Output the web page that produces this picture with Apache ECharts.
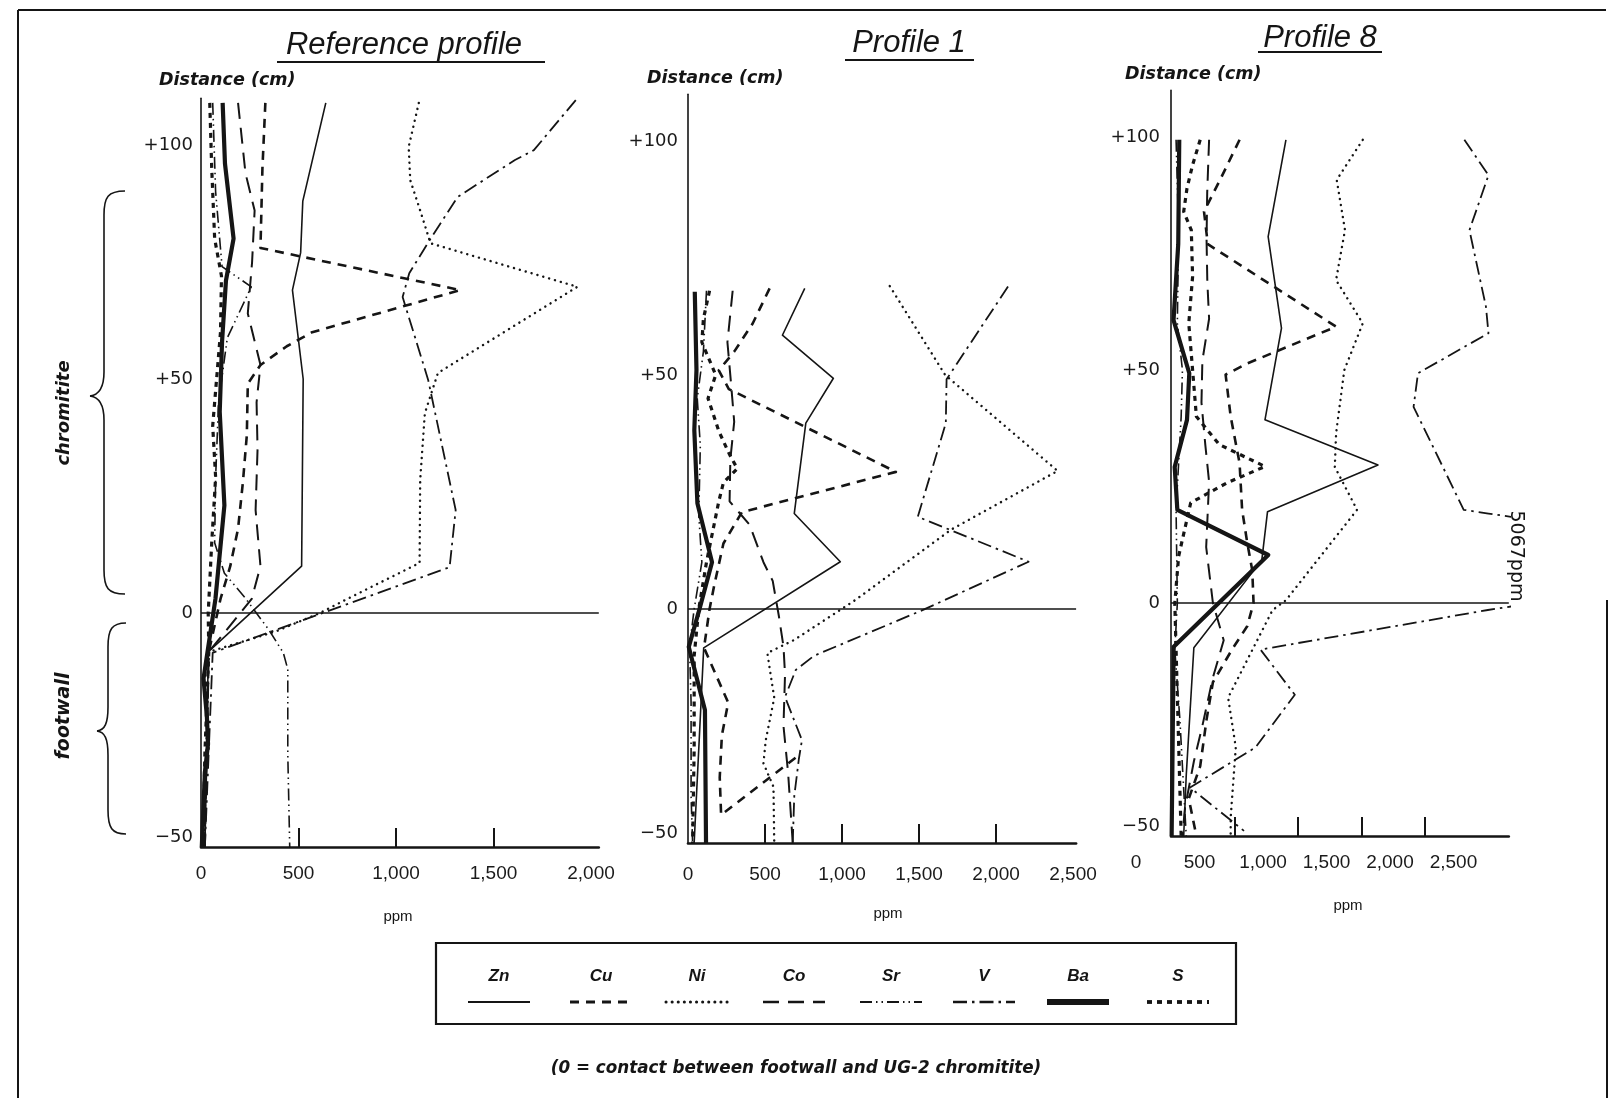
<!DOCTYPE html>
<html>
<head>
<meta charset="utf-8">
<script src="https://cdn.jsdelivr.net/npm/echarts@6/dist/echarts.min.js"></script>
<style>
html,body{margin:0;padding:0;background:#fff;}
#chart{width:1611px;height:1098px;}
</style>
</head>
<body>
<div id="chart"></div>
<script>
// ---------- DATA: [distance (cm), concentration (ppm)] ----------
const ELEMENTS = ['Zn','Cu','Ni','Co','Sr','V','Ba','S'];
const PANEL_TITLES = ['Reference profile','Profile 1','Profile 8'];
const Y_TICKS = [-50, 0, 50, 100];
const X_LABELS_REF = [0, 500, 1000, 1500, 2000];
const X_LABELS_P1 = [0, 500, 1000, 1500, 2000, 2500];
const X_LABELS_P8 = [0, 500, 1000, 1500, 2000, 2500];

// Reference profile
const refZn = [[109,640],[88,522],[77,511],[69,469],[50,524],[10,516],[-8.3,37],[-30,30],[-50,20]];
const refCu = [[109,330],[95,315],[78,305],[69,1330],[60,570],[57,440],[53,305],[49,240],[38,235],[28,215],[18,190],[10,150],[3,100],[-8.3,40]];
const refNi = [[109,1117],[99.6,1065],[92.5,1073],[85.5,1128],[79,1177],[69.7,1930],[51.3,1215],[42.7,1148],[28.4,1124],[10.7,1121],[2.8,740],[0,610],[-4,380],[-8.3,40],[-50,15]];
const refCo = [[109,190],[94,228],[86,275],[75,262],[64,240],[53,305],[45,285],[35,290],[22,280],[10,305],[3,260],[-8.3,40],[-30,30],[-50,20]];
const refSr = [[109,60],[90,75],[74,108],[69.7,258],[58.8,135],[45,90],[29,75],[15,70],[8.5,120],[3.2,227],[-3.6,348],[-8.5,422],[-12,445],[-30,445],[-50,455]];
const refV  = [[109.6,1922],[98.9,1707],[96.8,1610],[88.9,1316],[80.3,1182],[72.6,1068],[67.5,1034],[49.8,1165],[22,1306],[9.8,1275],[-8.5,60],[-50,20]];
const refBa = [[109,111],[96,123],[80,167],[71,128],[58,108],[43,96],[23,120],[3,74],[-14,13],[-22,30],[-28,36],[-34,20],[-50,4]];
const refS  = [[109,45],[95,55],[80,70],[72,105],[60,100],[50,80],[40,60],[29,75],[15,55],[0,37],[-8.3,40],[-30,20],[-50,10]];

// Profile 1
const p1Zn = [[68.5,758],[58.5,613],[49.3,944],[39.7,765],[20.4,690],[10.1,989],[-8.3,102],[-50,40]];
const p1Cu = [[68.5,530],[61,420],[55,300],[51,200],[47,265],[29.3,1350],[20.7,350],[14,230],[5,170],[0,140],[-8.3,104],[-20,261],[-27,220],[-36,206],[-44,215],[-31,730]];
const p1Ni = [[69,1310],[50,1670],[29.5,2400],[17,1710],[2,1090],[-6.6,690],[-9.4,515],[-19,560],[-28,505],[-33,490],[-38,555],[-50,560]];
const p1Co = [[68,290],[57,256],[48,280],[40,300],[32,275],[23,270],[18,400],[10,490],[6,550],[-1.5,590],[-8,620],[-14,630],[-25,620],[-35,650],[-50,680]];
const p1Sr = [[68,120],[55,100],[45,60],[35,80],[20,70],[10,90],[0,40],[-8,10],[-20,20],[-40,20],[-50,30]];
const p1V  = [[68.9,2078],[49.1,1679],[39.7,1674],[19.7,1492],[10.1,2212],[-0.2,1526],[-10,818],[-13,700],[-18.8,630],[-23,680],[-28,740],[-32,720],[-40,690],[-50,680]];
const p1Ba = [[67.8,44],[51.1,55],[38.2,41],[22.6,61],[10,156],[-0.2,73],[-8.1,5],[-21.6,110],[-50,117]];
const p1S  = [[68,140],[62,100],[57,90],[50,180],[45,130],[38,200],[33,270],[30,320],[27,230],[23,200],[10,120],[0,70],[-10,40],[-30,40],[-50,30]];

// Profile 8
const p8Zn = [[99.4,905],[78.6,765],[59,870],[39.3,740],[29.6,1630],[19.6,760],[9.2,715],[-9.6,180],[-37,120],[-50,100]];
const p8Cu = [[99.4,540],[91,390],[84,260],[77,290],[59.3,1300],[51.4,600],[49,430],[40,470],[30,540],[20,560],[13,600],[7,640],[0,650],[-5,600],[-10,480],[-17,330],[-25,280],[-35,230],[-42,140],[-50,200]];
const p8Ni = [[99.4,1510],[90.8,1305],[80,1370],[69.3,1300],[60,1510],[50,1365],[36.4,1300],[29.2,1290],[20,1465],[0.6,905],[-1.5,800],[-20.3,450],[-31,510],[-46,470],[-50,470]];
const p8Co = [[99.4,300],[88,285],[78,280],[69,286],[61,300],[52,247],[43,240],[34,270],[26,300],[12,277],[0,330],[-8,415],[-16,330],[-26,250],[-34,180],[-44,110],[-50,90]];
const p8Sr = [[99.4,40],[80,60],[60,50],[50,90],[40,80],[30,60],[20,40],[0,50],[-10,30],[-25,70],[-40,100],[-50,120]];
const p8V  = [[99.4,2310],[91.8,2500],[80,2350],[63.6,2480],[57.9,2500],[49.3,1945],[42.1,1910],[20,2305],[19.2,2500],[9,5067],[-1.5,2495],[-10,705],[-19.7,975],[-31,665],[-39.6,150],[-48.9,575]];
const p8Ba = [[99.4,65],[77,57],[60.7,20],[49.3,144],[39.3,126],[29.2,29],[20,50],[10.3,766],[-9.4,21],[-50,5]];
const p8S  = [[99.4,230],[94,170],[89,126],[84,100],[80,160],[70,170],[60,140],[50,170],[40,200],[34,380],[29.3,740],[25.7,435],[21.5,155],[10,60],[0,30],[-10,40],[-30,60],[-50,80]];

// ---------- build ----------
const DATA = [
  {Zn:refZn,Cu:refCu,Ni:refNi,Co:refCo,Sr:refSr,V:refV,Ba:refBa,S:refS},
  {Zn:p1Zn,Cu:p1Cu,Ni:p1Ni,Co:p1Co,Sr:p1Sr,V:p1V,Ba:p1Ba,S:p1S},
  {Zn:p8Zn,Cu:p8Cu,Ni:p8Ni,Co:p8Co,Sr:p8Sr,V:p8V,Ba:p8Ba,S:p8S}
];
const STYLE = {
  Zn:{width:1.6,type:'solid'},
  Cu:{width:2.6,type:[9,7]},
  Ni:{width:2.4,type:[0.1,6],cap:'round'},
  Co:{width:2.0,type:[16,9]},
  Sr:{width:1.6,type:[12,4,1.5,4,1.5,4]},
  V:{width:1.8,type:[14,5,2.5,5]},
  Ba:{width:4.2,type:'solid'},
  S:{width:3.2,type:[5,5]}
};
const INK = '#151515';
const FONT = '"Liberation Sans", Arial, sans-serif';
const WIDE = '"DejaVu Sans", Verdana, sans-serif';

const grids = [
  {left:201, top:98.2, width:397.8, height:748.8},
  {left:688, top:94.2, width:388.1, height:748.8},
  {left:1171, top:90.4, width:337.8, height:745.6}
];
const xMax = [2040, 2520, 2660];
const xTickVals = [[500,1000,1500],[500,1000,1500,2000],[500,1000,1500,2000]];
const xLabelVals = [X_LABELS_REF, X_LABELS_P1, X_LABELS_P8];
const labelMargin = [17, 22, 17];
const yLabelMargin = [8, 10, 11];

function fmtThousands(v){ return v >= 1000 ? (Math.floor(v/1000)+','+String(v%1000).padStart(3,'0')) : String(v); }

const xAxes = [], yAxes = [], series = [];
for (let p=0;p<3;p++){
  const xl = {
    customValues:xLabelVals[p], margin:labelMargin[p], color:'#1a1a1a', fontSize:19, fontFamily:FONT,
    formatter: p===2 ? (v => '{a|'+fmtThousands(v)+'}') : (v => fmtThousands(v))
  };
  if (p===2) xl.rich = {a:{padding:[0,70,0,0],fontSize:19,fontFamily:FONT,color:'#1a1a1a'}};
  xAxes.push({
    gridIndex:p, type:'value', min:0, max:xMax[p],
    axisLine:{show:true,onZero:false,lineStyle:{color:INK,width:2.6}},
    axisTick:{show:true,inside:true,length:19,customValues:xTickVals[p],lineStyle:{color:INK,width:2}},
    splitLine:{show:false},
    axisLabel: xl
  });
  yAxes.push({
    gridIndex:p, type:'value', min:-50, max:110, interval:50,
    axisLine:{show:true,onZero:false,lineStyle:{color:INK,width:1.6}},
    axisTick:{show:false}, splitLine:{show:false},
    axisLabel:{customValues:Y_TICKS, margin:yLabelMargin[p], color:'#1a1a1a', fontSize:18, fontFamily:WIDE,
      formatter: v => v>0 ? '+'+v : (v<0 ? '{m|\u2212'+Math.abs(v)+'}' : '0'),
      rich:{m:{padding:[0,0,20,0],fontSize:18,fontFamily:WIDE,color:'#1a1a1a'}}}
  });
  ELEMENTS.forEach((el,i)=>{
    const st = STYLE[el];
    const s = {
      name: el, type:'line', xAxisIndex:p, yAxisIndex:p,
      data: DATA[p][el].map(d => [d[1], d[0]]),
      symbol:'none', silent:true, animation:false, clip:true,
      lineStyle:{color:INK, width:st.width, type:st.type, cap:st.cap||'butt', join:'round'},
      z: el==='Ba'?5:3
    };
    if (i===0){
      s.markLine = {symbol:['none','none'], silent:true, animation:false, label:{show:false},
        lineStyle:{color:INK,type:'solid',width:1.7}, data:[{yAxis:0}]};
    }
    series.push(s);
  });
}

// ---------- decorations ----------
const g = [];
function txt(x,y,text,font,align,rot){
  g.push({type:'text', x:x, y:y, rotation:rot||0, silent:true,
    style:{text:text, font:font, fill:INK, textAlign:align||'center', textVerticalAlign:'middle'}});
}
function ln(x1,y1,x2,y2,w){
  g.push({type:'line', silent:true, shape:{x1:x1,y1:y1,x2:x2,y2:y2},
    style:{stroke:INK, lineWidth:w||1.5}});
}
function bz(x1,y1,c1x,c1y,c2x,c2y,x2,y2){
  g.push({type:'bezierCurve', silent:true,
    shape:{x1:x1,y1:y1,cpx1:c1x,cpy1:c1y,cpx2:c2x,cpy2:c2y,x2:x2,y2:y2},
    style:{stroke:INK,lineWidth:1.6,fill:null}});
}
function brace(xEnd, xBody, xTip, yTop, yTip, yBot){
  bz(xEnd,yTop, xBody+4,yTop, xBody,yTop+6, xBody,yTop+24);
  ln(xBody,yTop+24,xBody,yTip-24,1.6);
  bz(xBody,yTip-24, xBody,yTip-8, xTip+8,yTip-1, xTip,yTip);
  bz(xTip,yTip, xTip+8,yTip+1, xBody,yTip+8, xBody,yTip+24);
  ln(xBody,yTip+24,xBody,yBot-24,1.6);
  bz(xBody,yBot-24, xBody,yBot-6, xBody+4,yBot, xEnd,yBot);
}
// titles
const titlePos = [[404,45,277,545,62],[909,43,845,974,60],[1320,38,1258,1382,52]];
PANEL_TITLES.forEach((t,i)=>{
  const tp = titlePos[i];
  txt(tp[0],tp[1],t,'italic 31px '+FONT);
  ln(tp[2],tp[4],tp[3],tp[4],2);
});
// Distance labels
[[159,80],[647,78],[1125,74]].forEach(p=>txt(p[0],p[1],'Distance (cm)','italic bold 17.5px '+WIDE,'left'));
// ppm labels
[[398,917],[888,914],[1348,906]].forEach(p=>txt(p[0],p[1],'ppm','15px '+FONT));
// left annotations
txt(64,413,'chromitite','italic bold 18px '+WIDE,'center',Math.PI/2);
txt(64,716,'footwall','italic bold 19px '+WIDE,'center',Math.PI/2);
brace(125,104,90,191,396,594);
brace(126,108,97,623,731,834);
// off-scale annotation
txt(1516,556,'5067ppm','19px '+WIDE,'center',-Math.PI/2);
// legend box
g.push({type:'rect', silent:true, shape:{x:436,y:943,width:800,height:81}, style:{stroke:INK,lineWidth:2.2,fill:null}});
const legX = [499,601,697,794,891,984,1078,1178];
ELEMENTS.forEach((el,i)=>{
  txt(legX[i],976,el,'italic bold 17px '+FONT);
  const st = STYLE[el];
  g.push({type:'line', silent:true, shape:{x1:legX[i]-31,y1:1002,x2:legX[i]+31,y2:1002},
    style:{stroke:INK, lineWidth: el==='Ba'?6:st.width+0.6, lineDash: st.type==='solid'?null:st.type, lineCap: st.cap||'butt'}});
});
// footnote
txt(796,1069,'(0 = contact between footwall and UG-2 chromitite)','italic bold 16.8px '+WIDE);
// frame
ln(18,10,18,1098,2);
ln(18,10,1606,10,2);
ln(1607,600,1607,1098,2);

const chart = echarts.init(document.getElementById('chart'), null, {renderer:'canvas'});
chart.setOption({
  backgroundColor:'#ffffff',
  animation:false,
  grid: grids.map(gr=>Object.assign({containLabel:false},gr)),
  xAxis: xAxes, yAxis: yAxes, series: series,
  graphic: g
});
</script>
</body>
</html>
